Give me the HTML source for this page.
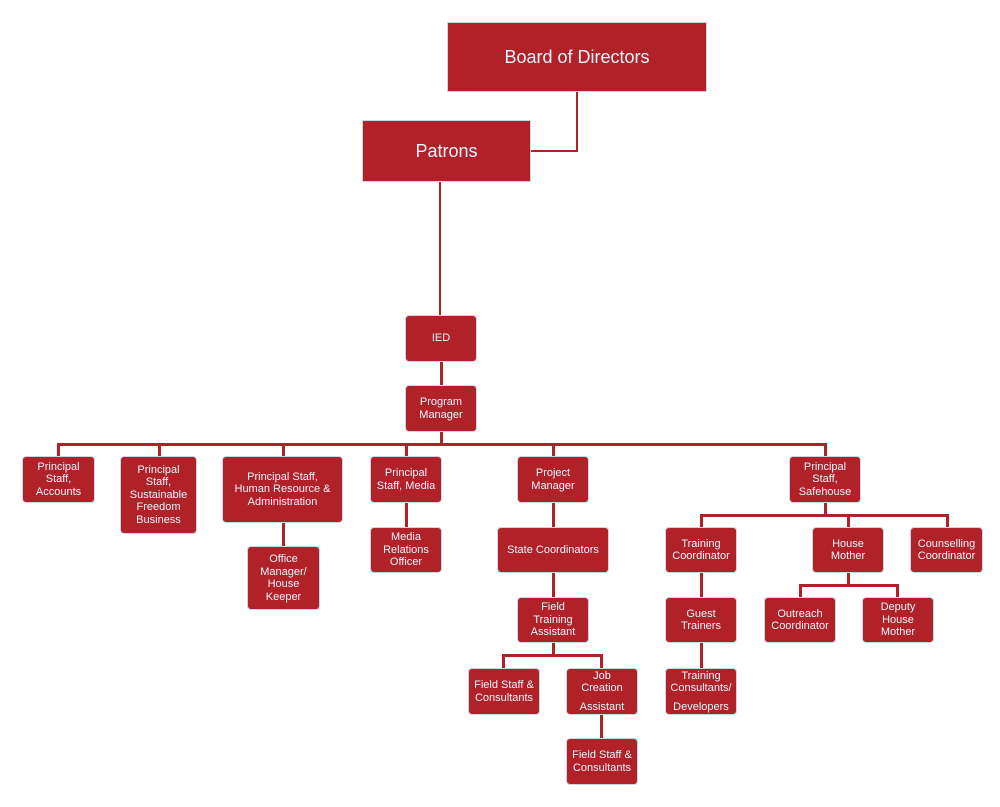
<!DOCTYPE html>
<html><head><meta charset="utf-8"><style>
body{margin:0;width:1000px;height:807px;background:#fff;position:relative;overflow:hidden;font-family:"Liberation Sans",Arial,sans-serif}
.b{position:absolute;background:#B02228;color:#eef4ff;display:flex;flex-direction:column;align-items:center;justify-content:center;text-align:center;font-size:11px;line-height:12.5px;border-radius:4px;box-sizing:border-box;border:1px solid #c9d6ea}
.big{font-size:18px;border-radius:0}
.l{position:absolute;background:#B02228}
.sp{display:block;height:6px}
</style></head><body>
<div class="l" style="left:576px;top:92px;width:2px;height:60px"></div>
<div class="l" style="left:531px;top:150px;width:47px;height:2px"></div>
<div class="l" style="left:439px;top:182px;width:2px;height:133px"></div>
<div class="l" style="left:440px;top:362px;width:3px;height:23px"></div>
<div class="l" style="left:440px;top:432px;width:3px;height:13px"></div>
<div class="l" style="left:57px;top:443px;width:770px;height:3px"></div>
<div class="l" style="left:57px;top:443px;width:3px;height:13px"></div>
<div class="l" style="left:158px;top:443px;width:3px;height:13px"></div>
<div class="l" style="left:282px;top:443px;width:3px;height:13px"></div>
<div class="l" style="left:405px;top:443px;width:3px;height:13px"></div>
<div class="l" style="left:552px;top:443px;width:3px;height:13px"></div>
<div class="l" style="left:824px;top:443px;width:3px;height:13px"></div>
<div class="l" style="left:282px;top:523px;width:3px;height:23px"></div>
<div class="l" style="left:405px;top:503px;width:3px;height:24px"></div>
<div class="l" style="left:552px;top:503px;width:3px;height:24px"></div>
<div class="l" style="left:552px;top:573px;width:3px;height:24px"></div>
<div class="l" style="left:552px;top:643px;width:3px;height:13px"></div>
<div class="l" style="left:502px;top:654px;width:101px;height:3px"></div>
<div class="l" style="left:502px;top:654px;width:3px;height:14px"></div>
<div class="l" style="left:600px;top:654px;width:3px;height:14px"></div>
<div class="l" style="left:600px;top:715px;width:3px;height:23px"></div>
<div class="l" style="left:824px;top:503px;width:3px;height:12px"></div>
<div class="l" style="left:700px;top:514px;width:249px;height:3px"></div>
<div class="l" style="left:700px;top:514px;width:3px;height:13px"></div>
<div class="l" style="left:847px;top:514px;width:3px;height:13px"></div>
<div class="l" style="left:946px;top:514px;width:3px;height:13px"></div>
<div class="l" style="left:700px;top:573px;width:3px;height:24px"></div>
<div class="l" style="left:700px;top:643px;width:3px;height:25px"></div>
<div class="l" style="left:847px;top:573px;width:3px;height:12px"></div>
<div class="l" style="left:799px;top:584px;width:100px;height:3px"></div>
<div class="l" style="left:799px;top:584px;width:3px;height:13px"></div>
<div class="l" style="left:896px;top:584px;width:3px;height:13px"></div>
<div class="b big" style="left:447px;top:22px;width:260px;height:70px">Board of Directors</div>
<div class="b big" style="left:362px;top:120px;width:169px;height:62px">Patrons</div>
<div class="b" style="left:405px;top:315px;width:72px;height:47px">IED</div>
<div class="b" style="left:405px;top:385px;width:72px;height:47px">Program<br>Manager</div>
<div class="b" style="left:22px;top:456px;width:73px;height:47px"><div>Principal<br>Staff,<br>Accounts</div></div>
<div class="b" style="left:120px;top:456px;width:77px;height:78px"><div>Principal<br>Staff,<br>Sustainable<br>Freedom<br>Business</div></div>
<div class="b" style="left:222px;top:456px;width:121px;height:67px"><div>Principal Staff,<br>Human Resource &amp;<br>Administration</div></div>
<div class="b" style="left:247px;top:546px;width:73px;height:64px"><div>Office<br>Manager/<br>House<br>Keeper</div></div>
<div class="b" style="left:370px;top:456px;width:72px;height:47px"><div>Principal<br>Staff, Media</div></div>
<div class="b" style="left:370px;top:527px;width:72px;height:46px"><div>Media<br>Relations<br>Officer</div></div>
<div class="b" style="left:517px;top:456px;width:72px;height:47px"><div>Project<br>Manager</div></div>
<div class="b" style="left:497px;top:527px;width:112px;height:46px">State Coordinators</div>
<div class="b" style="left:517px;top:597px;width:72px;height:46px"><div>Field<br>Training<br>Assistant</div></div>
<div class="b" style="left:468px;top:668px;width:72px;height:47px"><div>Field Staff &amp;<br>Consultants</div></div>
<div class="b" style="left:566px;top:668px;width:72px;height:47px"><div>Job<br>Creation<span class="sp"></span>Assistant</div></div>
<div class="b" style="left:566px;top:738px;width:72px;height:47px"><div>Field Staff &amp;<br>Consultants</div></div>
<div class="b" style="left:789px;top:456px;width:72px;height:47px"><div>Principal<br>Staff,<br>Safehouse</div></div>
<div class="b" style="left:665px;top:527px;width:72px;height:46px"><div>Training<br>Coordinator</div></div>
<div class="b" style="left:812px;top:527px;width:72px;height:46px"><div>House<br>Mother</div></div>
<div class="b" style="left:910px;top:527px;width:73px;height:46px"><div>Counselling<br>Coordinator</div></div>
<div class="b" style="left:665px;top:597px;width:72px;height:46px"><div>Guest<br>Trainers</div></div>
<div class="b" style="left:665px;top:668px;width:72px;height:47px"><div>Training<br>Consultants/<span class="sp"></span>Developers</div></div>
<div class="b" style="left:764px;top:597px;width:72px;height:46px"><div>Outreach<br>Coordinator</div></div>
<div class="b" style="left:862px;top:597px;width:72px;height:46px"><div>Deputy<br>House<br>Mother</div></div>
</body></html>
